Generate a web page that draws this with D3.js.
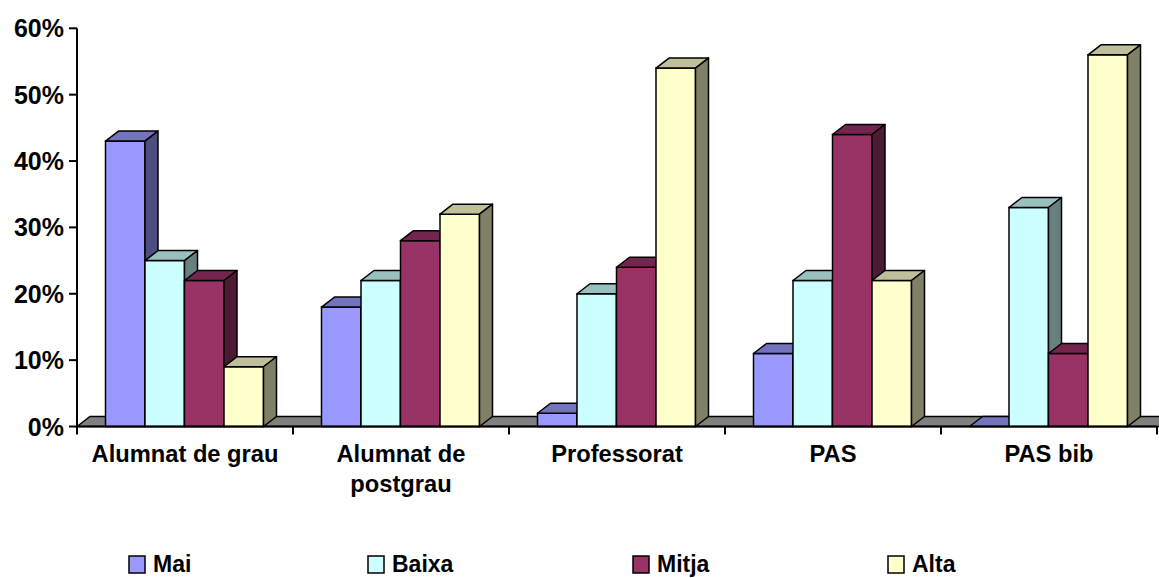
<!DOCTYPE html>
<html><head><meta charset="utf-8">
<script src="https://cdn.jsdelivr.net/npm/d3@7"></script>
<style>html,body{margin:0;padding:0;background:#fff;}svg{display:block;}</style>
</head><body>
<svg id="chart" width="1159" height="578"></svg>
<script>
const categories = ["Alumnat de grau", "Alumnat de postgrau", "Professorat", "PAS", "PAS bib"];
const seriesNames = ["Mai", "Baixa", "Mitja", "Alta"];
const mai   = [43, 18, 2, 11, 0];
const baixa = [25, 22, 20, 22, 33];
const mitja = [22, 28, 24, 44, 11];
const alta  = [9, 32, 54, 22, 56];
const yTicks = [0, 10, 20, 30, 40, 50, 60];

const seriesValues = [mai, baixa, mitja, alta];
const colors = ["#9999FF", "#CCFFFF", "#993366", "#FFFFCC"];
const legendX = [129, 368, 633, 888];

(function () {
const svg = d3.select("#chart");
const font = "'Liberation Sans', Arial, sans-serif";
const pLeft = 77, pRight = 1157, pTop = 28.3, pBottom = 426.5;
const dx = 13, dy = -10;

const x = d3.scaleBand().domain(categories).range([pLeft, pRight]).padding(0);
const xs = d3.scaleBand().domain(seriesNames).range([28.5, x.bandwidth() - 29.5]).padding(0);
const y = d3.scaleLinear().domain([0, 60]).range([pBottom, pTop]);

function shade(c, k) {
  const r = d3.rgb(c);
  return d3.rgb(r.r * k, r.g * k, r.b * k).formatHex();
}

// floor
svg.append("path")
  .attr("d", `M${pLeft},${pBottom} L${pLeft+dx},${pBottom+dy} L${pRight+dx+5},${pBottom+dy} L${pRight+5},${pBottom} Z`)
  .attr("fill", "#808080").attr("stroke", "#000").attr("stroke-width", 1.5);

// bars
const g = svg.append("g");
categories.forEach((cat, ci) => {
  seriesNames.forEach((s, si) => {
    const v = seriesValues[si][ci];
    const x0 = x(cat) + xs(s), w = xs.bandwidth();
    const yt = y(v), yb = y(0);
    const c = colors[si];
    const bg = g.append("g");
    bg.append("rect").attr("x", x0).attr("y", yt).attr("width", w).attr("height", yb - yt)
      .attr("fill", c).attr("stroke", "#000").attr("stroke-width", 1.5);
    bg.append("path")
      .attr("d", `M${x0},${yt} L${x0+dx},${yt+dy} L${x0+w+dx},${yt+dy} L${x0+w},${yt} Z`)
      .attr("fill", shade(c, 0.75)).attr("stroke", "#000").attr("stroke-width", 1.5).attr("stroke-linejoin", "round");
    if (v > 0) {
      bg.append("path")
        .attr("d", `M${x0+w},${yt} L${x0+w+dx},${yt+dy} L${x0+w+dx},${yb+dy} L${x0+w},${yb} Z`)
        .attr("fill", shade(c, 0.5)).attr("stroke", "#000").attr("stroke-width", 1.5).attr("stroke-linejoin", "round");
    }
  });
});

// y axis
svg.append("line").attr("x1", pLeft).attr("x2", pLeft).attr("y1", pTop).attr("y2", pBottom)
  .attr("stroke", "#000").attr("stroke-width", 2);
const yAx = svg.append("g");
yTicks.forEach(t => {
  yAx.append("line").attr("x1", pLeft - 8).attr("x2", pLeft).attr("y1", y(t)).attr("y2", y(t))
    .attr("stroke", "#000").attr("stroke-width", 2);
  yAx.append("text").attr("x", 64).attr("y", y(t)).attr("dy", "0.36em")
    .attr("text-anchor", "end").attr("font-family", font).attr("font-weight", "bold")
    .attr("font-size", 25).text(t + "%");
});

// x axis
svg.append("line").attr("x1", pLeft).attr("x2", pRight).attr("y1", pBottom).attr("y2", pBottom)
  .attr("stroke", "#000").attr("stroke-width", 2);
const xTickPos = categories.map(c => x(c)).concat([x(categories[categories.length-1]) + x.bandwidth()]);
xTickPos.forEach(p => {
  svg.append("line").attr("x1", p).attr("x2", p).attr("y1", pBottom).attr("y2", pBottom + 8)
    .attr("stroke", "#000").attr("stroke-width", 2);
});

// category labels with wrapping
categories.forEach(cat => {
  const cx = x(cat) + x.bandwidth() / 2;
  const t = svg.append("text").attr("x", cx).attr("y", 462)
    .attr("text-anchor", "middle").attr("font-family", font).attr("font-weight", "bold")
    .attr("font-size", 23.7);
  const words = cat.split(" ");
  let line = [];
  let ts = t.append("tspan").attr("x", cx).attr("dy", 0);
  words.forEach(wd => {
    line.push(wd);
    ts.text(line.join(" "));
    if (ts.node().getComputedTextLength() > 205 && line.length > 1) {
      line.pop();
      ts.text(line.join(" "));
      line = [wd];
      ts = t.append("tspan").attr("x", cx).attr("dy", 30).text(wd);
    }
  });
});

// legend
seriesNames.forEach((s, i) => {
  const lx = legendX[i];
  svg.append("rect").attr("x", lx).attr("y", 556).attr("width", 16).attr("height", 17)
    .attr("fill", colors[i]).attr("stroke", "#000").attr("stroke-width", 1.5);
  svg.append("text").attr("x", lx + 24).attr("y", 572).attr("font-family", font)
    .attr("font-weight", "bold").attr("font-size", 23).text(s);
});
})();
</script>
</body></html>
